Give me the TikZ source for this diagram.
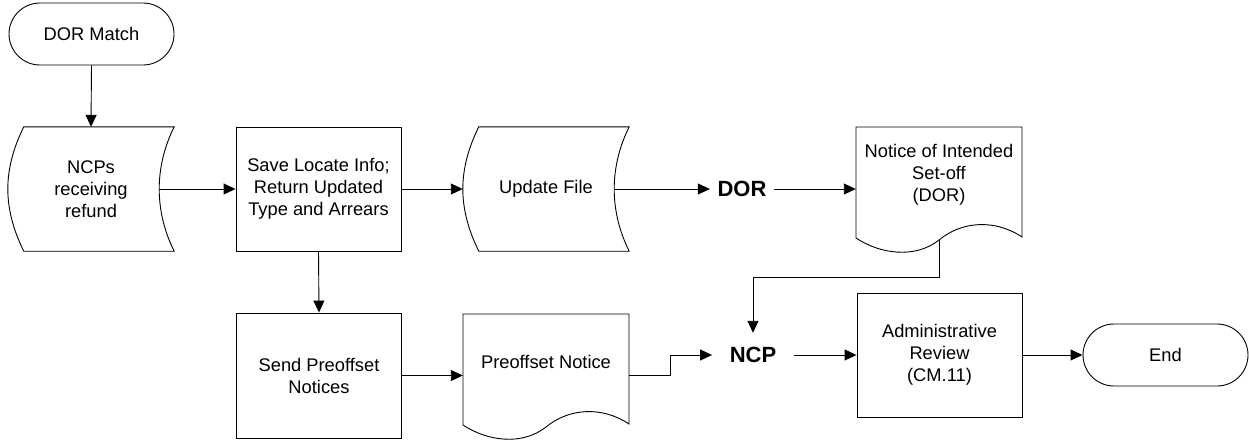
\documentclass[tikz,border=0pt]{standalone}
\usepackage{fontspec}
\setmainfont{Liberation Sans}
\usetikzlibrary{arrows.meta,shapes.misc,calc}
\newcommand\storedshape[1]{%
  \draw[shape line] ($(#1.north west)+(16,0)$) -- (#1.north east)
    .. controls +(-10,20) and +(0,-21) .. ($(#1.east)+(-15,0)$)
    .. controls +(0,21) and +(-10,-20) .. (#1.south east)
    -- ($(#1.south west)+(16,0)$)
    .. controls +(-10,-20) and +(0,21) .. (#1.west)
    .. controls +(0,-21) and +(-10,20) .. ($(#1.north west)+(16,0)$) -- cycle;}
\newcommand\docshape[1]{%
  \begin{scope}[shift={(#1.center)}]
  \draw[shape line] (-83,-48) -- (83,-48) -- (83,62)
    .. controls (56,44) and (23,46) .. (0,65)
    .. controls (-24,84) and (-59,79) .. (-83,63) -- cycle;
  \end{scope}}
\begin{document}
\begin{tikzpicture}[x=1pt,y=-1pt,
  every node/.style={font=\fontsize{18.3}{22}\selectfont, align=center, inner sep=0pt},
  shape line/.style={draw=black, line width=0.9pt},
  terminal/.style={rounded rectangle, draw=black, line width=0.9pt, minimum width=165pt, minimum height=62pt},
  procbox/.style={rectangle, draw=black, line width=0.9pt, minimum width=165pt, minimum height=124pt},
  storedbox/.style={rectangle, minimum width=166pt, minimum height=124pt},
  docbox/.style={rectangle, minimum width=166pt},
  boldlabel/.style={font=\fontsize{22}{26}\bfseries\selectfont, minimum height=44pt},
  arr/.style={draw=black, line width=0.9pt, -{Triangle[length=12pt,width=11pt]}}
]
\useasboundingbox (0,0) rectangle (1249,439);

\node[terminal] (start) at (91.5,34) {DOR Match};
\node[storedbox] (ncps) at (91,189) {NCPs\\receiving\\refund};
\storedshape{ncps}
\node[procbox] (save) at (318.5,189) {Save Locate Info;\\Return Updated\\Type and Arrears};
\node[storedbox] (upd) at (546,189) {Update File};
\storedshape{upd}
\node[boldlabel, inner xsep=7.5pt] (dor) at (742,189) {DOR};
\node[docbox] (doc1) at (939,175) {Notice of Intended\\Set-off\\(DOR)};
\docshape{doc1}
\coordinate (doc1out) at ($(doc1.center)+(0,65)$);

\node[procbox, minimum height=125pt] (send) at (319,375.5) {Send Preoffset\\Notices};
\node[docbox] (doc2) at (546,362) {Preoffset Notice};
\docshape{doc2}
\node[boldlabel, inner xsep=17.5pt] (ncp) at (753,355) {NCP};
\node[procbox] (adm) at (939.5,355) {Administrative\\Review\\(CM.11)};
\node[terminal] (end) at (1165.5,355) {End};

\draw[arr] (start.south) -- (ncps.north);
\draw[arr] ($(ncps.east)+(-15,0)$) -- (save.west);
\draw[arr] (save.east) -- (upd.west);
\draw[arr] ($(upd.east)+(-15,0)$) -- (dor.west);
\draw[arr] (dor.east) -- (dor.east -| doc1.west);
\draw[arr] (doc1out) -- ++(0,37) -| (ncp.north);
\draw[arr] (save.south) -- (send.north);
\draw[arr] (send.east) -- (send.east -| doc2.west);
\draw[arr] (doc2.east |- send.east) -- ++(41,0) |- (ncp.west);
\draw[arr] (ncp.east) -- (adm.west);
\draw[arr] (adm.east) -- (end.west);
\end{tikzpicture}
\end{document}
